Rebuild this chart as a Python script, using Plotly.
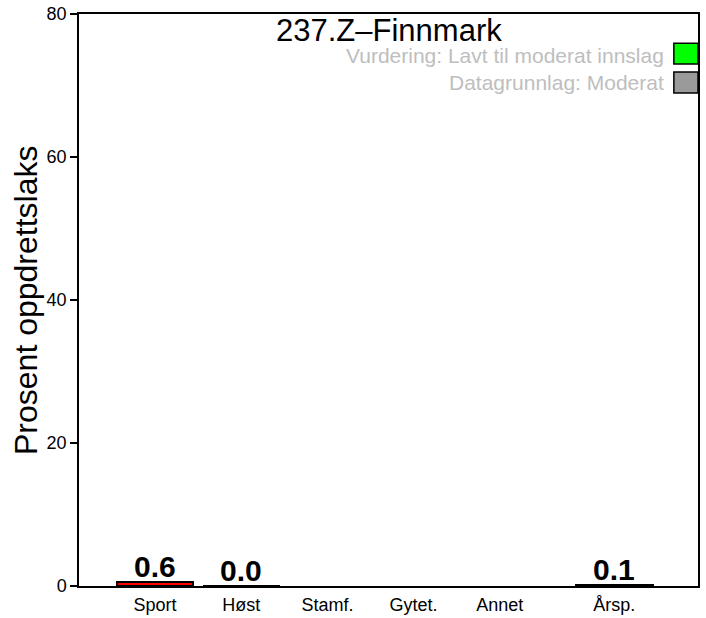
import plotly.graph_objects as go

# Fangstkategorier og andel oppdrettslaks (%)
categories = ["Sport", "Høst", "Stamf.", "Gytet.", "Annet", "Årsp."]
values = [0.6, 0.0, None, None, None, 0.1]
y_ticks = [0, 20, 40, 60, 80]

subtitle = "237.Z–Finnmark"
rating_text = "Vurdering: Lavt til moderat innslag"
data_text = "Datagrunnlag: Moderat"

# Styling
bar_fill = ["#FF0000", "#FFFFFF", "#FFFFFF", "#FFFFFF", "#FFFFFF", "#FFFFFF"]
FONT = "Liberation Sans, Arial, Helvetica, sans-serif"
bar_width = 0.98
spaces = [0.1, 0.1, 0.1, 0.1, 0.1, 0.46]

# Bar centres laid out like a base-graphics barplot (width 1, given spacing)
positions = []
edge = 0.0
for s in spaces:
    edge += s
    positions.append(edge + 0.5)
    edge += 1.0

fig = go.Figure()
fig.add_trace(go.Bar(
    x=positions,
    y=[v if v is not None else 0 for v in values],
    width=bar_width,
    marker=dict(color=bar_fill,
                line=dict(color="black",
                          width=[2 if v is not None else 0 for v in values])),
    hoverinfo="skip",
    showlegend=False,
))

annotations = []
for x, v in zip(positions, values):
    if v is None:
        continue
    annotations.append(dict(
        x=x, y=v, xref="x", yref="y", text=f"<b>{v:.1f}</b>",
        showarrow=False, yanchor="bottom", yshift=-3,
        font=dict(family=FONT, size=30, color="black"),
    ))

annotations += [
    dict(x=0.5, y=0.972, xref="paper", yref="paper", text=subtitle,
         showarrow=False, xanchor="center", yanchor="middle",
         font=dict(family=FONT, size=31, color="black")),
    dict(x=0.948, y=0.928, xref="paper", yref="paper", text=rating_text,
         showarrow=False, xanchor="right", yanchor="middle",
         font=dict(family=FONT, size=21, color="#BEBEBE")),
    dict(x=0.948, y=0.880, xref="paper", yref="paper", text=data_text,
         showarrow=False, xanchor="right", yanchor="middle",
         font=dict(family=FONT, size=21, color="#BEBEBE")),
    dict(x=-0.0856, y=0.5, xref="paper", yref="paper", text="Prosent oppdrettslaks",
         showarrow=False, xanchor="center", yanchor="middle", textangle=-90,
         font=dict(family=FONT, size=32, color="black")),
]

shapes = [
    dict(type="rect", xref="paper", yref="paper", x0=0.961, x1=1.0, y0=0.9126, y1=0.949,
         fillcolor="#00FF00", line=dict(color="black", width=1.5)),
    dict(type="rect", xref="paper", yref="paper", x0=0.961, x1=1.0, y0=0.8619, y1=0.8986,
         fillcolor="#9A9A9A", line=dict(color="black", width=1.5)),
]

fig.update_layout(
    width=706, height=618,
    margin=dict(l=79, r=8, t=14, b=32),
    paper_bgcolor="white", plot_bgcolor="white",
    annotations=annotations, shapes=shapes,
    bargap=0,
    font=dict(family=FONT, color="black"),
)
fig.update_xaxes(
    range=[-0.37, 7.53], automargin=False,
    tickvals=positions, ticktext=categories,
    ticks="", showgrid=False, zeroline=False,
    showline=True, mirror=True, linecolor="black", linewidth=1.5,
    ticklabelstandoff=2,
    tickfont=dict(family=FONT, size=18, color="black"),
)
fig.update_yaxes(
    range=[0, 80], tickvals=y_ticks, automargin=False,
    ticks="outside", ticklen=7, tickwidth=1.5, tickcolor="black",
    showgrid=False, zeroline=False,
    showline=True, mirror=True, linecolor="black", linewidth=1.5,
    tickfont=dict(family=FONT, size=18, color="black"),
)

fig.write_html("out.html")
